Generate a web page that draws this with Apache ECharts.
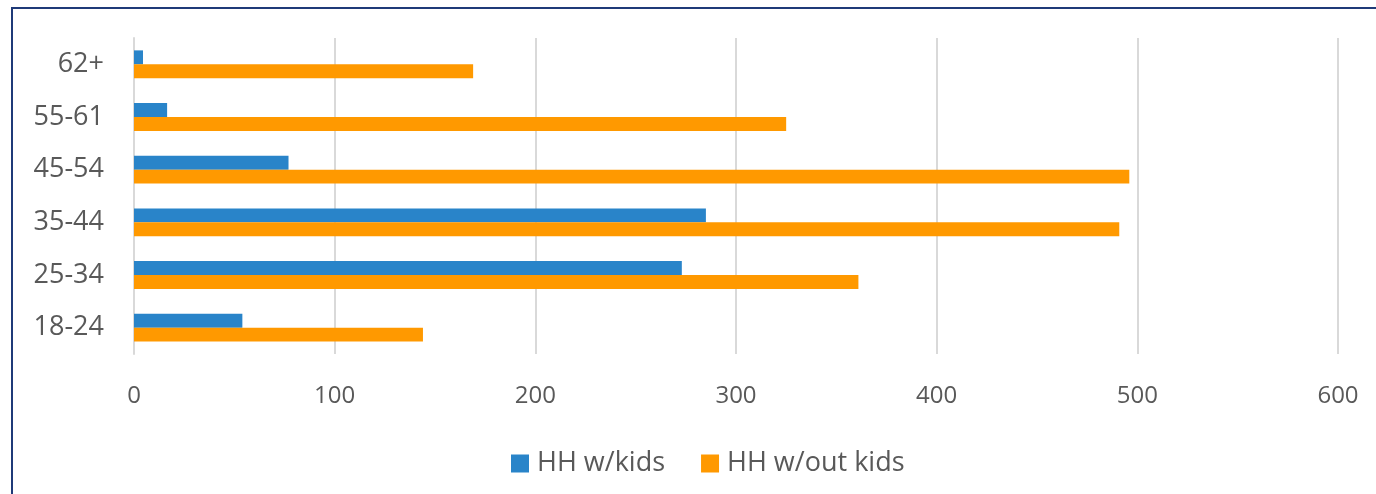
<!DOCTYPE html>
<html><head><meta charset="utf-8">
<script src="https://cdn.jsdelivr.net/npm/echarts@6/dist/echarts.min.js"></script>
<style>
html,body{margin:0;padding:0;background:#fff;overflow:hidden;}
#frame{position:absolute;left:11px;top:7px;width:1400px;height:520px;border:2px solid #1F3A78;box-sizing:border-box;}
#c{position:absolute;left:0;top:0;width:1376px;height:494px;}
</style></head>
<body>
<div id="frame"></div>
<div id="c"></div>
<script>
const categories = ['18-24','25-34','35-44','45-54','55-61','62+'];
const withKids = [54, 273, 285, 77, 16.5, 4.5];
const withoutKids = [144, 361, 491, 496, 325, 169];
const seriesNames = ['HH w/kids','HH w/out kids'];
const xTicks = {min:0, max:600, interval:100};

const chart = echarts.init(document.getElementById('c'));
const font = 'Open Sans';
chart.setOption({
  animation:false,
  grid:{left:134, right:38, top:38, bottom:140},
  legend:{
    top:445, left:506, itemWidth:18, itemHeight:18, itemGap:36,
    icon:'rect',
    textStyle:{fontFamily:font, fontSize:27, color:'#595959', padding:[0,0,0,3]},
    data:seriesNames
  },
  xAxis:{type:'value', min:xTicks.min, max:xTicks.max, interval:xTicks.interval,
    axisLine:{show:false}, axisTick:{show:false},
    splitLine:{lineStyle:{color:'#D9D9D9', width:2}},
    axisLabel:{fontFamily:font, fontSize:24, color:'#595959', margin:30}
  },
  yAxis:{type:'category', data:categories,
    axisLine:{show:true, lineStyle:{color:'#D9D9D9', width:2}}, axisTick:{show:false},
    axisLabel:{fontFamily:font, fontSize:27, color:'#595959', margin:30}
  },
  series:[
    {name:seriesNames[0], type:'bar', data:withKids, barWidth:'26.5%', barGap:'0%', itemStyle:{color:'#2984C9'}},
    {name:seriesNames[1], type:'bar', data:withoutKids, barWidth:'26.5%', barGap:'0%', itemStyle:{color:'#FF9900'}}
  ]
});
</script>
</body></html>
